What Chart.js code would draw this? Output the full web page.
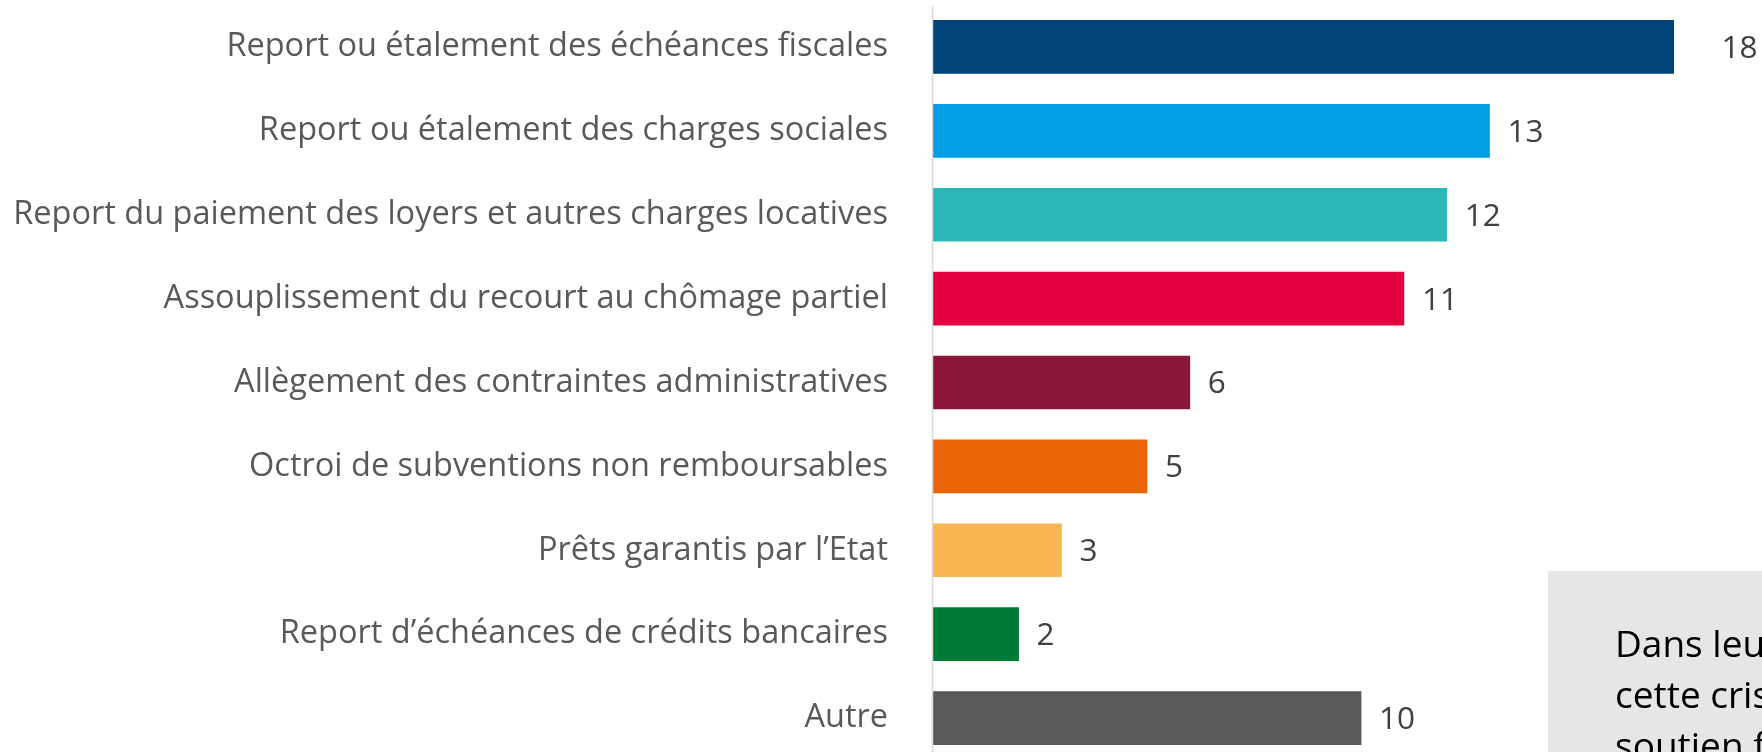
<!DOCTYPE html>
<html>
<head>
<meta charset="utf-8">
<style>
  html, body { margin: 0; padding: 0; background: #fff; overflow: hidden; }
</style>
</head>
<body>
<canvas id="chart" width="1762" height="760"></canvas>

<script src="https://cdn.jsdelivr.net/npm/chart.js"></script>
<script>
const categories = [
  'Report ou étalement des échéances fiscales',
  'Report ou étalement des charges sociales',
  'Report du paiement des loyers et autres charges locatives',
  'Assouplissement du recourt au chômage partiel',
  'Allègement des contraintes administratives',
  'Octroi de subventions non remboursables',
  'Prêts garantis par l\u2019Etat',
  'Report d\u2019échéances de crédits bancaires',
  'Autre'
];
const values = [18, 13, 12, 11, 6, 5, 3, 2, 10];
const barColors = ['#00427A', '#009FE3', '#2BB7B8', '#E4003F', '#8A1538', '#EC6608', '#F8B551', '#007A37', '#595959'];
const noteLines = ['Dans leur', 'cette crise', 'soutien financier'];

// value labels at the end of each bar (the first bar runs past the plot edge)
const valueLabels = {
  id: 'valueLabels',
  afterDatasetsDraw(chart) {
    const ctx = chart.ctx;
    const meta = chart.getDatasetMeta(0);
    const x = chart.scales.x;
    ctx.save();
    ctx.font = '31.5px "Open Sans"';
    ctx.fillStyle = '#404040';
    ctx.textAlign = 'left';
    ctx.textBaseline = 'middle';
    meta.data.forEach((bar, i) => {
      ctx.fillText(String(values[i]), x.getPixelForValue(values[i]) + 18, bar.y + 2);
    });
    ctx.restore();
  }
};

// vertical axis line + grey note box cut off at the corner
const extras = {
  id: 'extras',
  afterDraw(chart) {
    const ctx = chart.ctx;
    const a = chart.chartArea;
    ctx.save();
    ctx.strokeStyle = '#D9D9D9';
    ctx.lineWidth = 1.5;
    ctx.beginPath();
    ctx.moveTo(a.left - 0.5, 6);
    ctx.lineTo(a.left - 0.5, chart.height);
    ctx.stroke();

    ctx.fillStyle = '#E6E6E6';
    ctx.fillRect(1548, 571, chart.width - 1548, chart.height - 571);
    ctx.fillStyle = '#000';
    ctx.font = '37px "Open Sans"';
    ctx.textBaseline = 'alphabetic';
    noteLines.forEach((t, i) => ctx.fillText(t, 1615, 657 + i * 51));
    ctx.restore();
  }
};

new Chart(document.getElementById('chart'), {
  type: 'bar',
  data: {
    labels: categories,
    datasets: [{
      data: values,
      backgroundColor: barColors,
      barThickness: 53,
      clip: 0
    }]
  },
  options: {
    indexAxis: 'y',
    responsive: false,
    animation: false,
    layout: { padding: { top: 5, right: 88, bottom: 0, left: 0 } },
    plugins: {
      legend: { display: false },
      tooltip: { enabled: false }
    },
    scales: {
      x: {
        display: false,
        min: 0,
        max: 17.31
      },
      y: {
        grid: { display: false, drawTicks: false },
        border: { display: false },
        ticks: {
          padding: 45,
          color: '#595959',
          font: { family: 'Open Sans', size: 32.5 }
        },
        afterFit(scale) {
          scale.width = 933;
          scale.paddingTop = 0;
          scale.paddingBottom = 0;
        }
      }
    }
  },
  plugins: [valueLabels, extras]
});
</script>
</body>
</html>
